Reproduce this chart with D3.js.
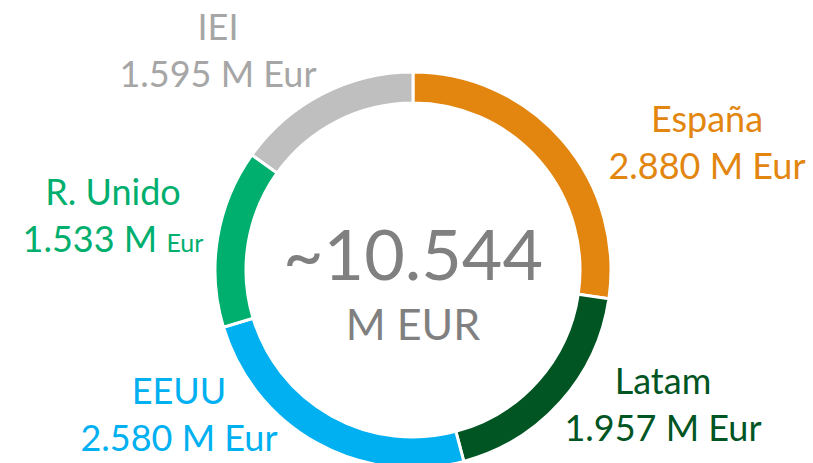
<!DOCTYPE html>
<html>

<head>
    <meta charset="utf-8">
    <script src="https://cdn.jsdelivr.net/npm/d3@7"></script>
    <style>
        body {
            margin: 0;
            background: #fff;
        }

        svg {
            font-family: Lato, "Open Sans", sans-serif;
            font-weight: 400;
            text-anchor: middle;
        }
    </style>
</head>

<body>
    <script>
        // data (M Eur), clockwise from 12 o'clock
        var regions = ["España", "Latam", "EEUU", "R. Unido", "IEI"];
        var values = [2880, 1957, 2580, 1533, 1595];
        var colors = ["#E2860F", "#005523", "#00B0F0", "#00AF6E", "#BFBFBF"];
        var labelColors = ["#E2860F", "#005523", "#00B0F0", "#00AF6E", "#A6A6A6"];
        var totalLabel = "~10.544";
        var unitLabel = "M EUR";

        var width = 813,
            height = 463,
            cx = 413,
            cy = 270,
            outerR = 198,
            innerR = 167;

        // where the two-line labels sit (centre x, first baseline)
        var labelLayout = {
            "España": [707, 132],
            "Latam": [663, 394],
            "EEUU": [179, 404],
            "R. Unido": [113, 205],
            "IEI": [218, 40]
        };

        var es = d3.formatLocale({ decimal: ",", thousands: ".", grouping: [3], currency: ["", " €"] });
        var fmt = es.format(",d");

        var data = regions.map(function (r, i) {
            return { name: r, value: values[i], color: colors[i], labelColor: labelColors[i] };
        });

        var svg = d3.select("body")
            .append("svg")
            .attr("width", width)
            .attr("height", height);

        var g = svg.append("g")
            .attr("transform", "translate(" + cx + "," + cy + ")");

        var pie = d3.pie()
            .sort(null)
            .value(function (d) { return d.value; });

        var arc = d3.arc()
            .innerRadius(innerR)
            .outerRadius(outerR);

        g.selectAll("path.slice")
            .data(pie(data))
            .enter()
            .append("path")
            .attr("class", "slice")
            .attr("d", arc)
            .attr("fill", function (d) { return d.data.color; })
            .attr("stroke", "#fff")
            .attr("stroke-width", 3);

        // centre total
        g.append("text")
            .attr("y", 10)
            .style("font-size", "70px")
            .style("fill", "#808080")
            .text(totalLabel);

        g.append("text")
            .attr("y", 70)
            .style("font-size", "43px")
            .style("fill", "#808080")
            .text(unitLabel);

        // outside labels
        var lab = svg.selectAll("g.lab")
            .data(data)
            .enter()
            .append("g")
            .attr("class", "lab")
            .attr("transform", function (d) {
                var p = labelLayout[d.name];
                return "translate(" + p[0] + "," + p[1] + ")";
            })
            .style("fill", function (d) { return d.labelColor; })
            .style("font-size", "36px");

        lab.append("text")
            .text(function (d) { return d.name; });

        var second = lab.append("text")
            .attr("y", 47);

        second.append("tspan")
            .text(function (d) { return fmt(d.value) + " M "; });

        second.append("tspan")
            .style("font-size", function (d) { return d.name === "R. Unido" ? "25px" : null; })
            .text("Eur");
    </script>
</body>

</html>
